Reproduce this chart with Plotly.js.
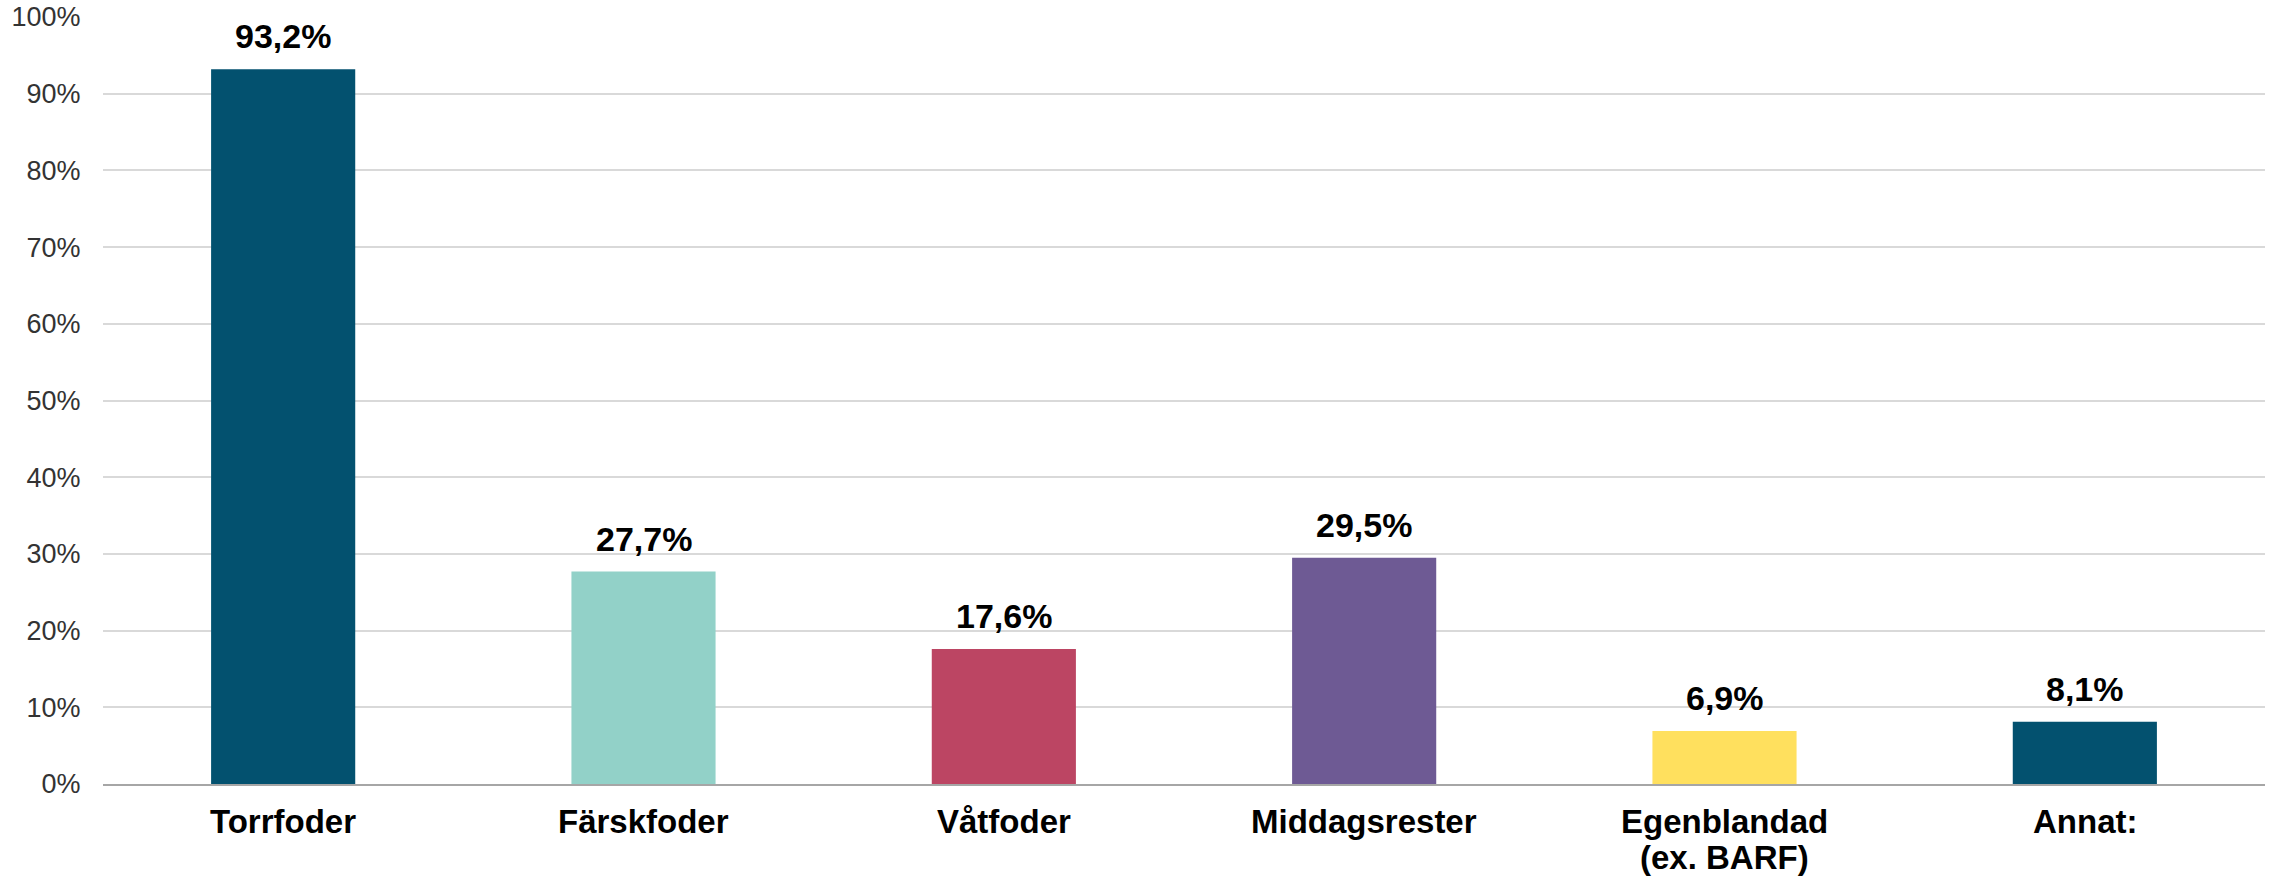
<!DOCTYPE html>
<html>
<head>
<meta charset="utf-8">
<script src="https://cdn.plot.ly/plotly-3.0.1.min.js"></script>
<style>html,body{margin:0;padding:0;background:#fff;}#chart{width:2277px;height:877px;}</style>
</head>
<body>
<div id="chart"></div>
<script>
const categories = ["Torrfoder", "Färskfoder", "Våtfoder", "Middagsrester", "Egenblandad (ex. BARF)", "Annat:"];
const categoryLines = [["Torrfoder"], ["Färskfoder"], ["Våtfoder"], ["Middagsrester"], ["Egenblandad", "(ex. BARF)"], ["Annat:"]];
const values = [93.2, 27.7, 17.6, 29.5, 6.9, 8.1];
const valueLabels = ["93,2%", "27,7%", "17,6%", "29,5%", "6,9%", "8,1%"];
const barColors = ["#03516f", "#92d1c8", "#bc4563", "#6e5a94", "#ffe05e", "#03516f"];
const yTickVals = [0, 10, 20, 30, 40, 50, 60, 70, 80, 90, 100];
const yTickText = ["0%", "10%", "20%", "30%", "40%", "50%", "60%", "70%", "80%", "90%", "100%"];

const FONT = "Liberation Sans, Arial, sans-serif";

const trace = {
  type: "bar",
  x: categories,
  y: values,
  marker: {color: barColors, line: {width: 0}},
  width: 0.4,
  hoverinfo: "skip"
};

const annotations = [];
categories.forEach((c, i) => {
  annotations.push({
    x: c, y: values[i], xref: "x", yref: "y",
    text: "<b>" + valueLabels[i] + "</b>",
    showarrow: false, yanchor: "bottom", yshift: 12,
    font: {family: FONT, size: 34, color: "#000"}
  });
  categoryLines[i].forEach((line, k) => {
    annotations.push({
      x: c, y: 0, xref: "x", yref: "paper",
      text: "<b>" + line + "</b>",
      showarrow: false, yanchor: "middle", yshift: -37 - k * 36,
      borderpad: 0,
      font: {family: FONT, size: 33, color: "#000"}
    });
  });
});

const layout = {
  width: 2277, height: 877,
  margin: {l: 103, r: 12, t: 17, b: 93},
  paper_bgcolor: "#fff", plot_bgcolor: "#fff",
  showlegend: false,
  bargap: 0.6,
  xaxis: {
    type: "category",
    showticklabels: false,
    showgrid: false, zeroline: false,
    showline: true, linecolor: "#a6a6a6", linewidth: 2,
    ticks: "",
    fixedrange: true
  },
  yaxis: {
    range: [0, 100],
    tickmode: "array", tickvals: yTickVals, ticktext: yTickText,
    tickfont: {family: FONT, size: 27, color: "#333"},
    showgrid: true, gridcolor: "#d9d9d9", gridwidth: 2,
    zeroline: false, showline: false,
    ticks: "outside", ticklen: 16, tickcolor: "rgba(0,0,0,0)",
    fixedrange: true
  },
  annotations: annotations
};

Plotly.newPlot("chart", [trace], layout, {displayModeBar: false, staticPlot: true});
</script>
</body>
</html>
